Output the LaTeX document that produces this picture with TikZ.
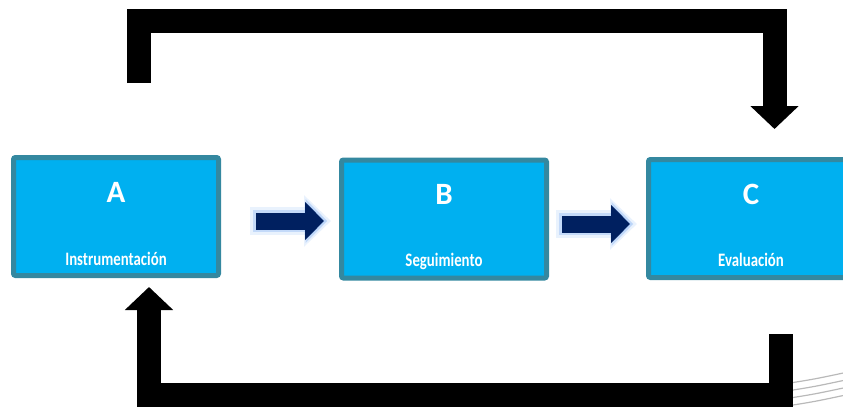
\documentclass[tikz,border=0pt]{standalone}
\usepackage{fontspec}
\setmainfont{Carlito}
\newfontfamily\stepfont[FakeStretch=0.78]{Carlito}
\usetikzlibrary{arrows.meta, calc}
\tikzset{>=latex}
\definecolor{boxfill}{RGB}{0,176,240}
\definecolor{boxline}{RGB}{52,136,160}
\definecolor{navy}{RGB}{0,32,96}
\definecolor{glow}{RGB}{110,165,240}

\begin{document}
\begin{tikzpicture}[x=1pt, y=-1pt,
	stage/.style={draw=boxline, fill=boxfill, line width=5pt, rounded corners=2pt,
		minimum width=205pt, minimum height=118pt, inner sep=0pt},
	letter/.style={text=white, anchor=base, font=\bfseries\fontsize{31}{31}\selectfont},
	caption/.style={text=white, anchor=base, font=\stepfont\bfseries\fontsize{19}{19}\selectfont},
	flow/.style={draw=navy, line width=17pt, -{Triangle[width=37pt,length=19pt]},
		preaction={draw=glow, opacity=.15, line width=28pt, -{Triangle[width=50pt,length=27pt]},
			shorten <=-6pt, shorten >=-7pt},
		preaction={draw=glow, opacity=.3, line width=22pt, -{Triangle[width=43pt,length=22pt]},
			shorten <=-3pt, shorten >=-3.5pt}},
	return arrow/.style={draw=black, line width=24pt, -{Triangle[width=47pt,length=23pt]}}]

\useasboundingbox (0,0) rectangle (843,407);
\clip (0,0) rectangle (843,407);

% Stages
\node[stage] (A) at (116,216.5) {};
\node[stage] (B) at (444,219) {};
\node[stage] (C) at (751,218.5) {};

\node[letter] (A-l) at ($(A.center)+(0,-14)$) {A};
\node[letter] (B-l) at ($(B.center)+(0,-15)$) {B};
\node[letter] (C-l) at ($(C.center)+(0,-14.5)$) {C};

\node[caption] (A-c) at ($(A.center)+(0,49)$) {Instrumentación};
\node[caption] (B-c) at ($(B.center)+(0,47)$) {Seguimiento};
\node[caption] (C-c) at ($(C.center)+(0,48)$) {Evaluación};

% Flow between stages
\draw[flow] ($(A.east)+(35,4.5)$) -- ($(B.west)+(-15,2)$);
\draw[flow] ($(B.east)+(13,5)$) -- ($(C.west)+(-16,5.5)$);

% Lines in the corner
\foreach \i in {0,...,3}
	\draw[gray!55, line width=1.2pt] (790,{383+7.5*\i}) .. controls (815,{379+7.5*\i}) .. (848,{372+7.5*\i});

% Return arrows
\draw[return arrow] ($(A.north)+(23,-72)$) -- ++(0,-62) -| ($(C.north)+(23.5,-28)$);
\draw[return arrow] ($(C.south)+(29.5,54)$) -- ++(0,61) -| ($(A.south)+(33,9)$);

\end{tikzpicture}
\end{document}
